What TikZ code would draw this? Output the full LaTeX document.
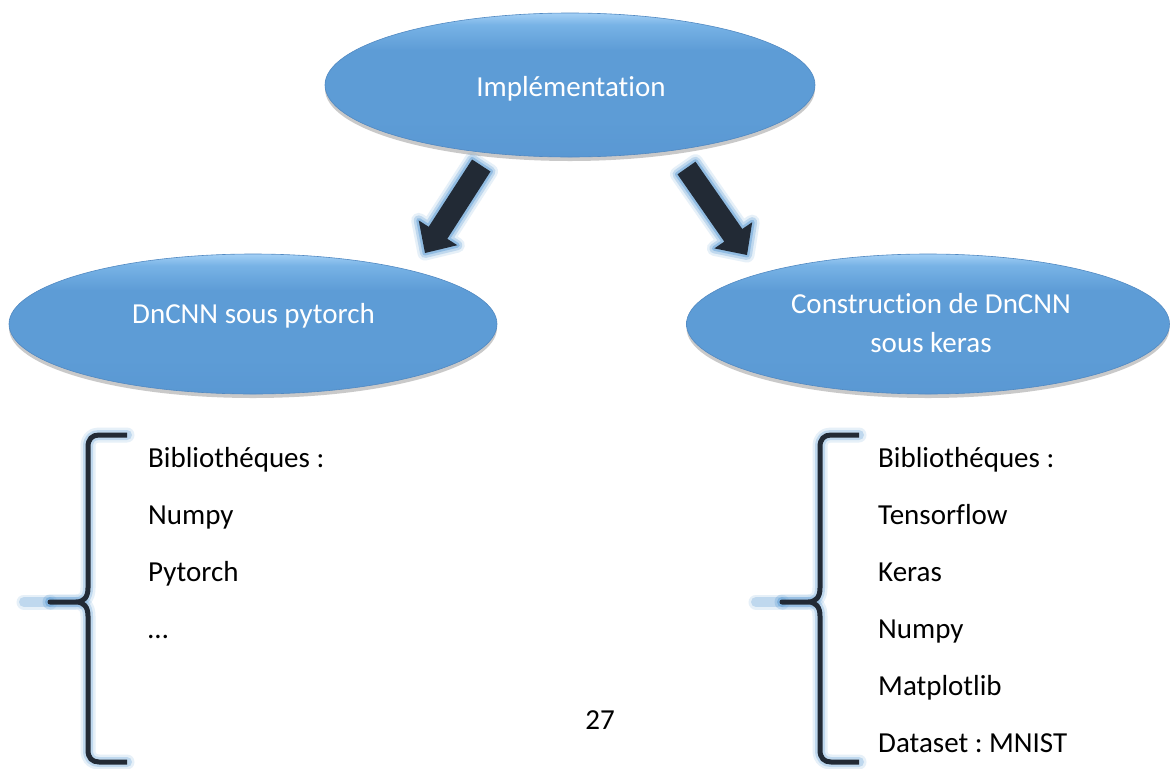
\documentclass[tikz,border=0pt]{standalone}
\usepackage{fontspec}
\setmainfont{Carlito}[Ligatures={NoCommon,NoContextual}]
\usetikzlibrary{shapes.geometric,shadows}
\definecolor{ellmid}{HTML}{5D9CD6}
\definecolor{elltop}{HTML}{A4D0F5}
\definecolor{ellhi}{HTML}{78B3E6}
\definecolor{ellbot}{HTML}{5A98D3}
\definecolor{ellrim}{HTML}{5189C2}
\definecolor{darkarrow}{HTML}{222A35}
\definecolor{glowblue}{HTML}{5B9BD5}
\pgfdeclareverticalshading{ovalshade}{100bp}{color(0bp)=(ellbot); color(25bp)=(ellbot); color(38bp)=(ellmid); color(62bp)=(ellmid); color(71bp)=(ellhi); color(75bp)=(elltop); color(100bp)=(elltop)}
\newcommand\bigtxt{\fontsize{29}{35}\selectfont}
\newcommand\nolig{\kern0pt }
\tikzset{
  oval/.style={ellipse, inner sep=0pt, draw=ellrim, line width=0.6pt,
    shade, shading=ovalshade,
    drop shadow={shadow xshift=0pt, shadow yshift=-4pt, opacity=0.35, fill=black!60}},
  ovaltext/.style={text=white, anchor=base, inner sep=0pt, font=\bigtxt},
  itemtext/.style={text=black, anchor=base west, inner sep=0pt, font=\bigtxt},
  glowA/.style={draw=glowblue, line width=15pt, opacity=0.15, line join=round, line cap=round},
  glowB/.style={draw=glowblue, line width=10pt, opacity=0.28, line join=round, line cap=round},
  glowC/.style={draw=glowblue, line width=5pt, opacity=0.45, line join=round, line cap=round},
  blockarrow/.style={fill=darkarrow},
  bracepath/.style={draw=darkarrow, line width=5pt, line join=round},
}
\begin{document}
\frenchspacing
\begin{tikzpicture}[x=1pt,y=-1pt]
\useasboundingbox (0,0) rectangle (1171,769);
\fill[white] (0,0) rectangle (1171,769);

% ellipses
\node[oval, minimum width=490pt, minimum height=144pt] (top) at (570,85) {};
\node[oval, minimum width=488pt, minimum height=140pt] (left) at (253,324) {};
\node[oval, minimum width=483pt, minimum height=140pt] (right) at (928,324) {};

\node[ovaltext] (toptext) at (571,96) {Implémentat\nolig ion};
\node[ovaltext] (lefttext) at (253.5,323) {DnCNN sous pytorch};
\node[ovaltext] (righttext1) at (931,313) {Construct\nolig ion de DnCNN};
\node[ovaltext] (righttext2) at (931,352) {sous keras};

% block arrows
\foreach \g in {glowA,glowB,glowC}{
  \path[\g] (472.1,159.5) -- (490.5,171.5) -- (447.3,238.8) -- (457.3,245.2) -- (425,253) -- (418.7,220.4) -- (428.7,226.8) -- cycle;
  \path[\g] (695.5,161.7) -- (742.3,229) -- (752.2,222.2) -- (747,255) -- (714.4,248.4) -- (724.3,241.6) -- (677.5,174.3) -- cycle;
}
\path[blockarrow] (472.1,159.5) -- (490.5,171.5) -- (447.3,238.8) -- (457.3,245.2) -- (425,253) -- (418.7,220.4) -- (428.7,226.8) -- cycle;
\path[blockarrow] (695.5,161.7) -- (742.3,229) -- (752.2,222.2) -- (747,255) -- (714.4,248.4) -- (724.3,241.6) -- (677.5,174.3) -- cycle;

% braces
\foreach \dx in {0,732}{
  \begin{scope}[xshift=\dx]
  \foreach \g in {glowA,glowB}{
    \path[\g] (127,435) -- (99,435) .. controls (92,435) and (88,439) .. (88,447) -- (88,588) .. controls (88,597) and (84,602) .. (76,602) -- (50,602);
    \path[\g] (50,602) -- (76,602) .. controls (84,602) and (88,607) .. (88,616) -- (88,750) .. controls (88,758) and (92,762) .. (99,762) -- (127,762);
    \path[\g] (50,602) -- (24,602);
  }
  \path[bracepath] (127,435) -- (99,435) .. controls (92,435) and (88,439) .. (88,447) -- (88,588) .. controls (88,597) and (84,602) .. (76,602) -- (50,602)
     -- (76,602) .. controls (84,602) and (88,607) .. (88,616) -- (88,750) .. controls (88,758) and (92,762) .. (99,762) -- (127,762);
  \end{scope}
}

% lists
\node[itemtext] (l1) at (148,467) {Bibliothéques :};
\node[itemtext] (l2) at (148,524) {Numpy};
\node[itemtext] (l3) at (148,581) {Pytorch};
\node[itemtext] (l4) at (148,638) {…};

\node[itemtext] (r1) at (878,467) {Bibliothéques :};
\node[itemtext] (r2) at (878,524) {Tensorflow};
\node[itemtext] (r3) at (878,581) {Keras};
\node[itemtext] (r4) at (878,638) {Numpy};
\node[itemtext] (r5) at (878,695) {Matplotlib};
\node[itemtext] (r6) at (878,752) {Dataset : MNIST};

\node[text=black, anchor=base, inner sep=0pt, font=\bigtxt] (page) at (600,729) {27};
\end{tikzpicture}
\end{document}
